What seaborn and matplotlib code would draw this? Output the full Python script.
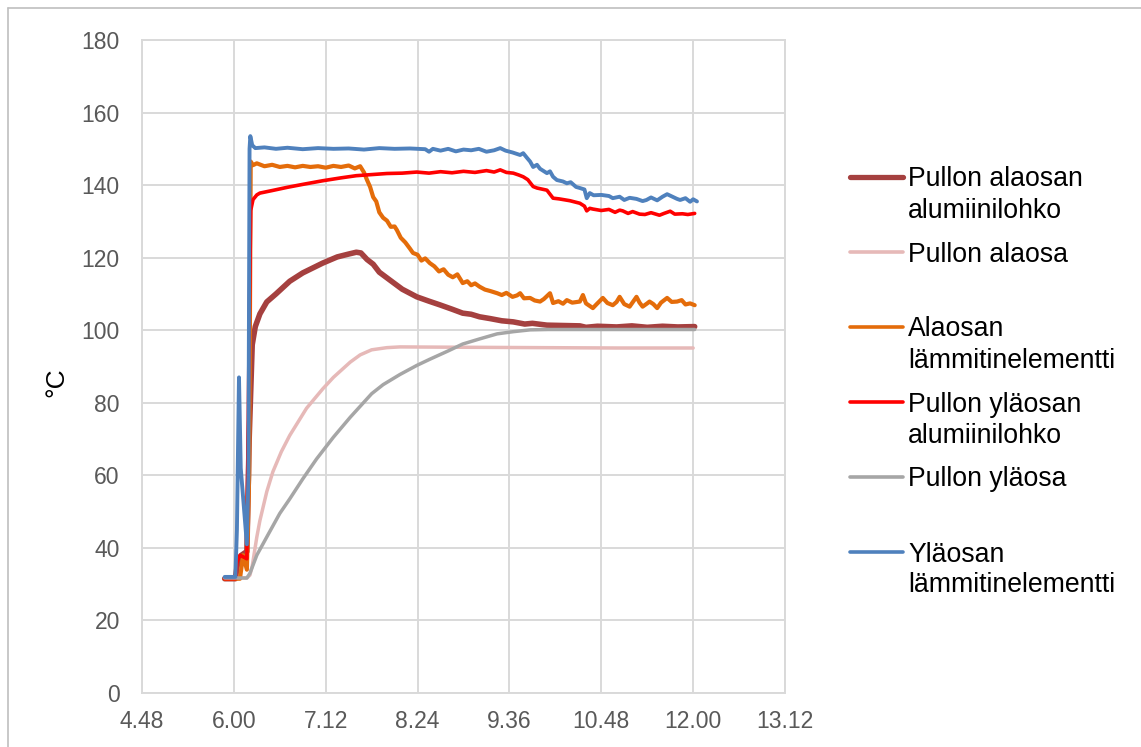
import matplotlib
matplotlib.use("Agg")
import matplotlib.pyplot as plt
import pandas as pd
import seaborn as sns
from matplotlib.lines import Line2D

# ---------------- data (time in hours, temperature in °C) ----------------
x_ticks = [4.8, 6.0, 7.2, 8.4, 9.6, 10.8, 12.0, 13.2]
x_tick_labels = ["4.48", "6.00", "7.12", "8.24", "9.36", "10.48", "12.00", "13.12"]
y_ticks = [0, 20, 40, 60, 80, 100, 120, 140, 160, 180]

series_names = [
    "Pullon alaosan\nalumiinilohko",
    "Pullon alaosa",
    "Alaosan\nlämmitinelementti",
    "Pullon yläosan\nalumiinilohko",
    "Pullon yläosa",
    "Yläosan\nlämmitinelementti",
]

alaosan_alu = [
    (5.88, 31.5), (6.02, 31.5), (6.05, 36), (6.10, 38), (6.17, 39), (6.20, 70),
    (6.24, 96), (6.28, 101), (6.34, 104.5), (6.43, 107.8), (6.55, 110),
    (6.73, 113.5), (6.90, 115.8), (7.16, 118.5), (7.35, 120.2), (7.50, 121),
    (7.60, 121.5), (7.66, 121.3), (7.74, 119.5), (7.82, 118.2), (7.90, 116),
    (8.04, 113.8), (8.20, 111.3), (8.39, 109.2), (8.55, 108), (8.69, 107),
    (8.85, 105.8), (8.99, 104.7), (9.10, 104.4), (9.21, 103.7), (9.35, 103.2),
    (9.50, 102.6), (9.65, 102.3), (9.80, 101.7), (9.90, 101.9), (10.09, 101.4),
    (10.30, 101.3), (10.52, 101.2), (10.60, 100.8), (10.75, 101.1), (11.00, 100.9),
    (11.20, 101.2), (11.40, 100.8), (11.60, 101.1), (11.80, 100.9), (12.02, 101),
]

alaosa = [
    (5.88, 31.7), (6.17, 31.7), (6.21, 32.5), (6.24, 35), (6.30, 43), (6.34, 47.5),
    (6.43, 55.5), (6.51, 61), (6.62, 66.5), (6.73, 71), (6.95, 78.5), (7.16, 83.8),
    (7.30, 87), (7.52, 91.2), (7.65, 93.2), (7.80, 94.6), (8.00, 95.2),
    (8.17, 95.4), (9.00, 95.3), (10.00, 95.2), (11.00, 95.1), (12.00, 95.1),
]

alaosan_lammitin = [
    (5.88, 31.5), (6.08, 31.5), (6.12, 38), (6.17, 34), (6.20, 60), (6.22, 146.5),
    (6.25, 145.5), (6.30, 146), (6.40, 145.2), (6.50, 145.6), (6.60, 145),
    (6.70, 145.3), (6.80, 144.9), (6.90, 145.3), (7.00, 145), (7.10, 145.2),
    (7.20, 144.8), (7.30, 145.3), (7.40, 145), (7.50, 145.4), (7.58, 144.6),
    (7.65, 145.2), (7.70, 143.5), (7.74, 141.4), (7.78, 139.5), (7.82, 136.7),
    (7.86, 135.5), (7.90, 132.5), (7.95, 131), (8.00, 130.2), (8.05, 128.5),
    (8.10, 128.6), (8.13, 127.6), (8.18, 125.5), (8.24, 124.2), (8.30, 122.5),
    (8.34, 121.3), (8.40, 120.8), (8.45, 119.2), (8.50, 119.8), (8.56, 118.5),
    (8.62, 117.6), (8.68, 116.2), (8.74, 116.8), (8.80, 115.3), (8.86, 114.6),
    (8.92, 115.4), (8.99, 113), (9.05, 113.5), (9.10, 112.4), (9.15, 112.9),
    (9.21, 112), (9.28, 111.2), (9.35, 110.8), (9.44, 110.2), (9.50, 109.7),
    (9.56, 110.3), (9.64, 109.2), (9.70, 109.6), (9.74, 110.2), (9.79, 108.8),
    (9.87, 108.9), (9.93, 108.2), (10.00, 107.9), (10.05, 108.6), (10.13, 110.2),
    (10.17, 107.5), (10.24, 108), (10.30, 107.3), (10.35, 108.3), (10.42, 107.6),
    (10.52, 107.9), (10.56, 109.7), (10.60, 107.4), (10.69, 106.1), (10.74, 107.2),
    (10.82, 108.9), (10.88, 107.5), (10.95, 106.9), (11.00, 107.8), (11.04, 109.2),
    (11.10, 107.2), (11.17, 106.5), (11.22, 108), (11.26, 109.2), (11.30, 107.6),
    (11.34, 106.5), (11.40, 107.4), (11.43, 107.9), (11.48, 107.2), (11.53, 106.1),
    (11.58, 107.6), (11.66, 108.9), (11.72, 107.8), (11.79, 107.9), (11.85, 108.3),
    (11.90, 107.1), (11.96, 107.4), (12.02, 106.9),
]

ylaosan_alu = [
    (5.88, 31.5), (6.02, 31.5), (6.04, 36), (6.08, 38), (6.17, 37), (6.20, 100),
    (6.22, 133), (6.25, 136), (6.30, 137.3), (6.34, 137.8), (6.50, 138.5),
    (6.70, 139.4), (6.90, 140.2), (7.16, 141.2), (7.40, 142), (7.60, 142.6),
    (7.80, 142.9), (8.00, 143.2), (8.20, 143.3), (8.39, 143.6), (8.55, 143.3),
    (8.70, 143.7), (8.85, 143.4), (9.00, 143.8), (9.15, 143.5), (9.30, 144),
    (9.40, 143.6), (9.48, 144.2), (9.56, 143.5), (9.65, 143.3), (9.72, 142.8),
    (9.78, 142.3), (9.84, 141.5), (9.91, 139.6), (9.96, 139.2), (10.09, 138.6),
    (10.17, 136.4), (10.25, 136.2), (10.39, 135.7), (10.52, 135), (10.58, 134.2),
    (10.61, 132.9), (10.65, 133.6), (10.69, 133.4), (10.80, 133), (10.90, 133.3),
    (10.98, 132.5), (11.04, 133.1), (11.08, 132.9), (11.15, 132.2), (11.21, 132.7),
    (11.30, 132), (11.37, 131.9), (11.45, 132.4), (11.56, 131.7), (11.62, 132.2),
    (11.70, 132.8), (11.76, 132), (11.86, 132.1), (11.93, 131.9), (12.02, 132.2),
]

ylaosa = [
    (5.88, 31.7), (6.17, 31.7), (6.21, 33), (6.30, 38), (6.43, 43), (6.60, 49.5),
    (6.73, 53.5), (6.90, 59), (7.08, 64.5), (7.30, 70.5), (7.52, 76), (7.80, 82.5),
    (7.95, 85), (8.17, 87.8), (8.39, 90.3), (8.56, 92), (8.80, 94.3), (8.99, 96.2),
    (9.21, 97.6), (9.44, 99), (9.65, 99.6), (9.87, 100.1), (10.10, 100.2),
    (11.00, 100.2), (12.02, 100.2),
]

ylaosan_lammitin = [
    (5.88, 32), (6.02, 32), (6.04, 45), (6.067, 87), (6.09, 62), (6.17, 41),
    (6.19, 60), (6.205, 150), (6.215, 153.5), (6.24, 151), (6.28, 150.2),
    (6.40, 150.4), (6.55, 150), (6.70, 150.3), (6.90, 149.9), (7.10, 150.2),
    (7.30, 150), (7.50, 150.1), (7.70, 149.8), (7.90, 150.2), (8.10, 150),
    (8.30, 150.1), (8.50, 149.9), (8.55, 149.2), (8.60, 150), (8.70, 149.5),
    (8.80, 150), (8.90, 149.3), (9.00, 149.8), (9.10, 149.6), (9.20, 150),
    (9.30, 149.2), (9.40, 149.6), (9.48, 150.2), (9.55, 149.5), (9.64, 149),
    (9.74, 148.3), (9.78, 148.8), (9.83, 147.5), (9.87, 146.5), (9.91, 145),
    (9.96, 145.6), (10.00, 144.5), (10.09, 143.3), (10.13, 143.8), (10.17, 142.3),
    (10.22, 141.4), (10.30, 141), (10.35, 140.5), (10.40, 140.8), (10.47, 139.5),
    (10.52, 139.2), (10.58, 138.8), (10.61, 136.4), (10.65, 137.8), (10.70, 137.2),
    (10.80, 137.3), (10.90, 137), (10.95, 136.4), (11.04, 136.8), (11.10, 135.9),
    (11.17, 136.5), (11.26, 136.2), (11.34, 135.6), (11.39, 135.9), (11.45, 136.6),
    (11.53, 135.8), (11.60, 136.8), (11.66, 137.5), (11.72, 136.9), (11.79, 136.2),
    (11.83, 135.9), (11.90, 136.4), (11.96, 135.4), (12.00, 136.1), (12.05, 135.5),
]

series_points = [alaosan_alu, alaosa, alaosan_lammitin, ylaosan_alu, ylaosa, ylaosan_lammitin]
series_colors = ["#A5403F", "#E6B9B8", "#E46C0A", "#FF0000", "#A6A6A6", "#4F81BD"]
series_widths = [4.0, 2.5, 3.0, 2.6, 2.5, 2.8]
legend_widths = [3.8, 2.6, 2.6, 2.6, 2.6, 2.6]

# ---------------- figure ----------------
sns.set_theme(style="white")
plt.rcParams["font.family"] = ["Liberation Sans", "DejaVu Sans"]

W, H = 1141, 747
fig = plt.figure(figsize=(W / 100, H / 100), dpi=100)
fig.patch.set_facecolor("white")

left_px, right_px, top_px, bottom_px = 142, 785, 40, 693
ax = fig.add_axes([left_px / W, 1 - bottom_px / H,
                   (right_px - left_px) / W, (bottom_px - top_px) / H])
ax.set_facecolor("white")

for name, pts, col, lw in zip(series_names, series_points, series_colors, series_widths):
    df = pd.DataFrame(pts, columns=["aika", "lampotila"])
    sns.lineplot(data=df, x="aika", y="lampotila", ax=ax, color=col,
                 linewidth=lw, estimator=None, sort=False, legend=False)

ax.set_xlim(4.8, 13.2)
ax.set_ylim(0, 180)
ax.set_xticks(x_ticks)
ax.set_xticklabels(x_tick_labels)
ax.set_yticks(y_ticks)
ax.set_xlabel("")
ax.set_ylabel("")

grid_col = "#D9D9D9"
ax.grid(True, color=grid_col, linewidth=1.4)
ax.set_axisbelow(True)
for s in ax.spines.values():
    s.set_color(grid_col)
    s.set_linewidth(1.4)
ax.tick_params(axis="both", length=0, labelsize=16.5, labelcolor="#595959")
ax.tick_params(axis="y", pad=16)
ax.tick_params(axis="x", pad=12)

fig.text(56 / W, 1 - 382 / H, "°C", rotation=90, ha="center", va="center",
         fontsize=19, color="#000000")

# legend (Excel-style, samples aligned with first text line)
leg_y = [177, 252, 327, 402, 477, 552]
line_gap = 31
for name, col, lw, yy in zip(series_names, series_colors, legend_widths, leg_y):
    fig.add_artist(Line2D([850 / W, 903 / W], [1 - yy / H, 1 - yy / H],
                          transform=fig.transFigure, color=col, linewidth=lw,
                          solid_capstyle="round"))
    n_lines = name.count("\n") + 1
    base_last = yy + 9.5 + (n_lines - 1) * line_gap
    fig.text(908 / W, 1 - base_last / H, name, ha="left", va="baseline",
             fontsize=19.2, color="#000000", linespacing=1.25)

# outer chart frame (partially cropped)
frame_col = "#BFBFBF"
fig.add_artist(Line2D([8 / W, 8 / W], [0, 1 - 8 / H], transform=fig.transFigure,
                      color=frame_col, linewidth=1.2))
fig.add_artist(Line2D([8 / W, 1], [1 - 8 / H, 1 - 8 / H], transform=fig.transFigure,
                      color=frame_col, linewidth=1.2))

fig.savefig("out.png", dpi=100, facecolor="white")
